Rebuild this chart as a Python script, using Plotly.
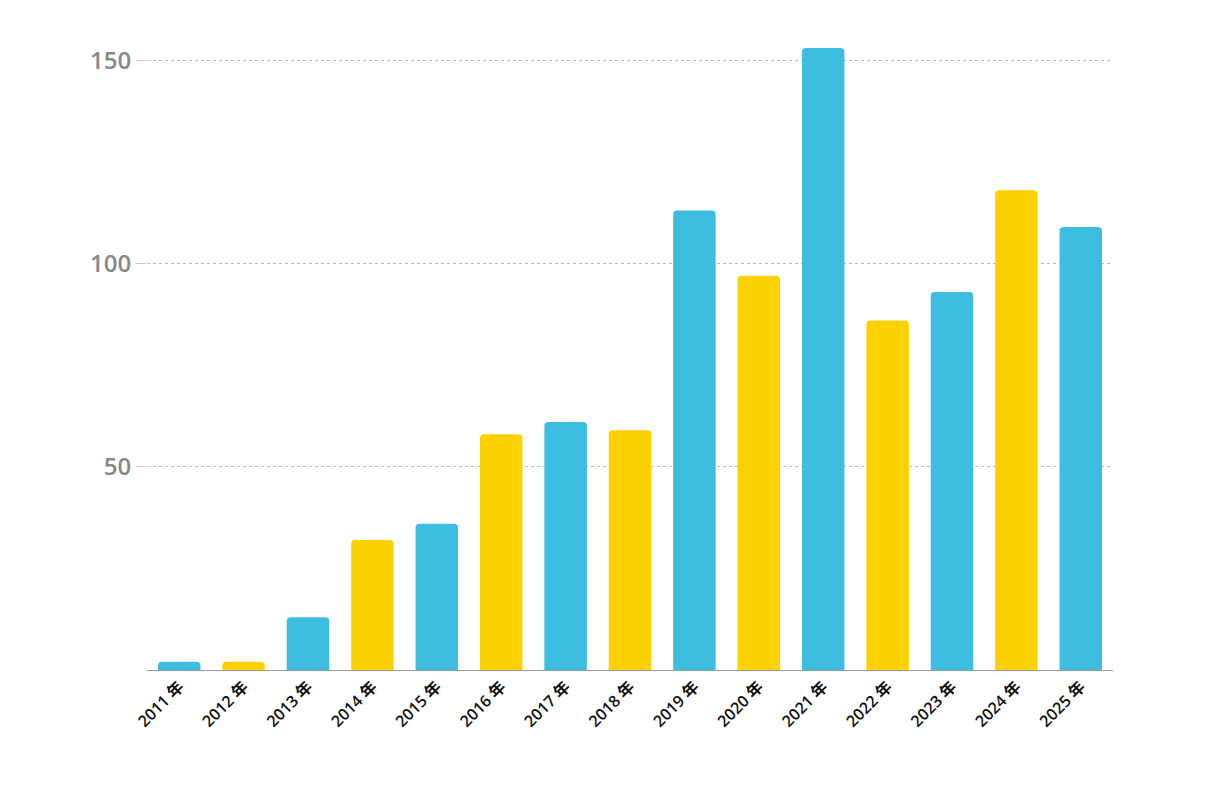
import plotly.graph_objects as go

years = [f"{y} 年" for y in range(2011, 2026)]
values = [2, 2, 13, 32, 36, 58, 61, 59, 113, 97, 153, 86, 93, 118, 109]
blue, yellow = "#3dbde0", "#fdd100"
colors = [blue if i % 2 == 0 else yellow for i in range(len(values))]

fig = go.Figure(go.Bar(x=years, y=values, marker=dict(color=colors, cornerradius=4, line_width=0), width=0.66))
fig.update_layout(
    width=1232, height=788, plot_bgcolor="white", paper_bgcolor="white",
    margin=dict(l=139, r=127, t=40, b=126), showlegend=False,
    font=dict(family="Open Sans, Noto Sans CJK JP, sans-serif"),
)
fig.update_xaxes(tickangle=-45, tickfont=dict(size=16, color="#111", family="Open Sans, Noto Sans CJK JP", weight=600),
                 showline=True, linecolor="#999", linewidth=1, showgrid=False, ticks="")
fig.update_yaxes(range=[0, 153], tickvals=[50, 100, 150], tickfont=dict(size=24, color="#888", weight=600),
                 showgrid=True, gridcolor="#bbb", griddash="dot", gridwidth=1, zeroline=False,
                 ticks="outside", ticklen=10, tickcolor="#ccc")
fig.write_html("out.html")
